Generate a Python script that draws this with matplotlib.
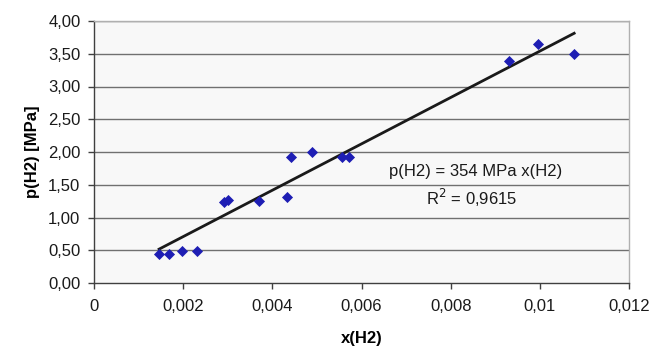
import matplotlib
matplotlib.use("Agg")
import matplotlib.pyplot as plt
import numpy as np

plt.rcParams['font.family'] = ['Liberation Sans', 'DejaVu Sans']

x_h2 = [0.00146, 0.00169, 0.00197, 0.00231, 0.00291, 0.00301, 0.00370, 0.00433,
        0.00442, 0.00490, 0.00556, 0.00571, 0.00930, 0.00996, 0.01077]
p_h2 = [0.44, 0.44, 0.49, 0.49, 1.23, 1.27, 1.25, 1.31,
        1.93, 2.00, 1.93, 1.93, 3.39, 3.65, 3.49]
slope = 354.0
x_ticks = [0, 0.002, 0.004, 0.006, 0.008, 0.01, 0.012]
x_tick_labels = ["0", "0,002", "0,004", "0,006", "0,008", "0,01", "0,012"]
y_ticks = [0.0, 0.5, 1.0, 1.5, 2.0, 2.5, 3.0, 3.5, 4.0]
y_tick_labels = ["0,00", "0,50", "1,00", "1,50", "2,00", "2,50", "3,00", "3,50", "4,00"]

fig = plt.figure(figsize=(6.6, 3.52), dpi=100)
ax = fig.add_axes([94/660, 1 - 283/352, (629-94)/660, (283-21)/352])
ax.set_facecolor('#f8f8f8')

for yv in y_ticks[1:]:
    ax.axhline(yv, color='#707070', lw=1.0, zorder=1)

xs = np.array([min(x_h2), max(x_h2)])
ax.plot(xs, slope * xs, color='#1a1a1a', lw=2.0, zorder=2)
ax.scatter(x_h2, p_h2, marker='D', s=32, color='#1e1eb4', zorder=3, linewidths=0)

ax.set_xlim(0, 0.012)
ax.set_ylim(0, 4.0)
ax.set_xticks(x_ticks)
ax.set_xticklabels(x_tick_labels)
ax.set_yticks(y_ticks)
ax.set_yticklabels(y_tick_labels)
ax.tick_params(axis='both', direction='out', length=4.3, width=1, color='#404040',
               labelsize=12, colors='#1a1a1a')
ax.tick_params(axis='x', pad=7)
ax.tick_params(axis='y', pad=5.5)

for side in ['top', 'right']:
    ax.spines[side].set_color('#b0b0b0')
    ax.spines[side].set_linewidth(1.0)
for side in ['left', 'bottom']:
    ax.spines[side].set_color('#404040')
    ax.spines[side].set_linewidth(1.0)

ax.set_xlabel('x(H2)', fontsize=12, fontweight='bold', va='center')
ax.set_ylabel('p(H2) [MPa]', fontsize=12, fontweight='bold', va='center')
ax.xaxis.set_label_coords(0.5, (283 - 338) / 262)
ax.yaxis.set_label_coords((32 - 94) / 535, 0.5)

ax.text(0.00855, 1.70, 'p(H2) = 354 MPa x(H2)', fontsize=12, ha='center', va='center', color='#1a1a1a')
ax.text(0.00846, 1.30, r'R$^2$ = 0,9615', fontsize=12, ha='center', va='center', color='#1a1a1a')

fig.savefig('out.png', dpi=100)
